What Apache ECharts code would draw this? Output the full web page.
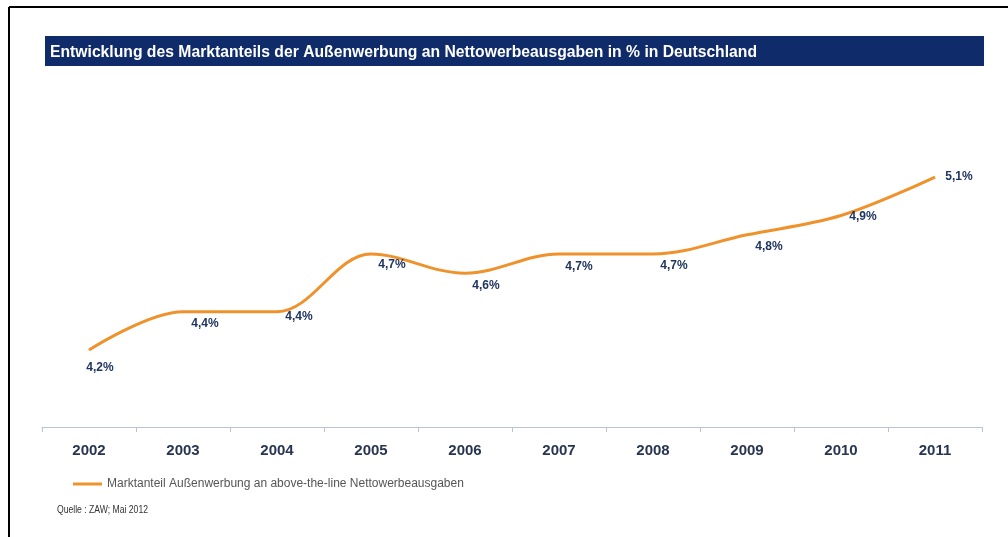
<!DOCTYPE html>
<html>
<head>
<meta charset="utf-8">
<title>Marktanteil Außenwerbung</title>
<script src="https://cdn.jsdelivr.net/npm/echarts@6/dist/echarts.min.js"></script>
<style>
  html, body { margin: 0; padding: 0; background: #fff; }
  #main { width: 1008px; height: 537px; }
</style>
</head>
<body>
<div id="main"></div>
<script>
// Daten
var years = ['2002', '2003', '2004', '2005', '2006', '2007', '2008', '2009', '2010', '2011'];
var anteil = [4.2, 4.4, 4.4, 4.7, 4.6, 4.7, 4.7, 4.8, 4.9, 5.1];
var seriesName = 'Marktanteil Außenwerbung an above-the-line Nettowerbeausgaben';
var titleText = 'Entwicklung des Marktanteils der Außenwerbung an Nettowerbeausgaben in % in Deutschland';
var sourceText = 'Quelle : ZAW; Mai 2012';

// Verschiebung der Beschriftungen (px) je Punkt
var labelNudge = [[11, 18], [22, 12], [22, 5], [21, 11], [21, 12], [20, 13], [21, 12], [22, 12], [22, 1], [24, 0]];

var navy = '#1f3560';
var orange = '#f0922c';
var titleFont = 'bold 17px "Liberation Sans", Arial, sans-serif';
var sourceFont = '10px "Liberation Sans", Arial, sans-serif';

// schmale Schrift nachbilden: Breite messen und horizontal stauchen
function squeeze(text, font, target) {
	var ctx = document.createElement('canvas').getContext('2d');
	ctx.font = font;
	return target / ctx.measureText(text).width;
}

var chartData = [];
for (var i = 0; i < anteil.length; i++) {
	chartData.push({
		value: anteil[i],
		label: { offset: labelNudge[i] }
	});
}

var myChart = echarts.init(document.getElementById('main'));

var option = {
	backgroundColor: '#ffffff',
	animation: false,
	graphic: [
		// Rahmen
		{ type: 'line', z: 0, shape: { x1: 9, y1: 7, x2: 9, y2: 537 }, style: { stroke: '#000', lineWidth: 2 } },
		{ type: 'line', z: 0, shape: { x1: 9, y1: 7, x2: 1008, y2: 7 }, style: { stroke: '#000', lineWidth: 2 } },
		// Titelbalken
		{ type: 'rect', z: 0, shape: { x: 45, y: 36, width: 939, height: 30 }, style: { fill: '#0f2b6a' } },
		{
			type: 'text', z: 1, x: 50, y: 52,
			scaleX: squeeze(titleText, titleFont, 707),
			style: {
				text: titleText,
				fill: '#ffffff',
				font: titleFont,
				verticalAlign: 'middle'
			}
		},
		// Quelle
		{
			type: 'text', x: 57, y: 510,
			scaleX: squeeze(sourceText, sourceFont, 91),
			style: {
				text: sourceText,
				fill: '#333',
				font: sourceFont,
				verticalAlign: 'middle'
			}
		}
	],
	legend: {
		data: [seriesName],
		left: 68,
		top: 473,
		icon: 'rect',
		itemWidth: 29,
		itemHeight: 3,
		itemGap: 10,
		textStyle: {
			color: '#555',
			fontSize: 12,
			fontFamily: '"Liberation Sans", Arial, sans-serif'
		}
	},
	grid: {
		left: 42,
		right: 26,
		top: 81,
		bottom: 110
	},
	xAxis: [{
		type: 'category',
		boundaryGap: true,
		data: years,
		axisLine: { lineStyle: { color: '#b9c5d2', width: 1 } },
		axisTick: { show: true, length: 5, lineStyle: { color: '#b9c5d2' } },
		axisLabel: {
			margin: 16,
			color: '#283552',
			fontSize: 15,
			fontWeight: 'bold',
			fontFamily: '"Liberation Sans", Arial, sans-serif'
		}
	}],
	yAxis: [{
		type: 'value',
		min: 3.8,
		max: 5.6,
		show: false,
		splitLine: { show: false }
	}],
	series: [{
		name: seriesName,
		type: 'line',
		smooth: 0.35,
		symbol: 'circle',
		symbolSize: 1,
		itemStyle: { color: orange },
		lineStyle: { color: orange, width: 3 },
		label: {
			show: true,
			position: 'inside',
			color: navy,
			fontSize: 12,
			fontWeight: 'bold',
			fontFamily: '"Liberation Sans", Arial, sans-serif',
			formatter: function(p) {
				return p.value.toFixed(1).replace('.', ',') + '%';
			}
		},
		data: chartData
	}]
};

myChart.setOption(option);
</script>
</body>
</html>
